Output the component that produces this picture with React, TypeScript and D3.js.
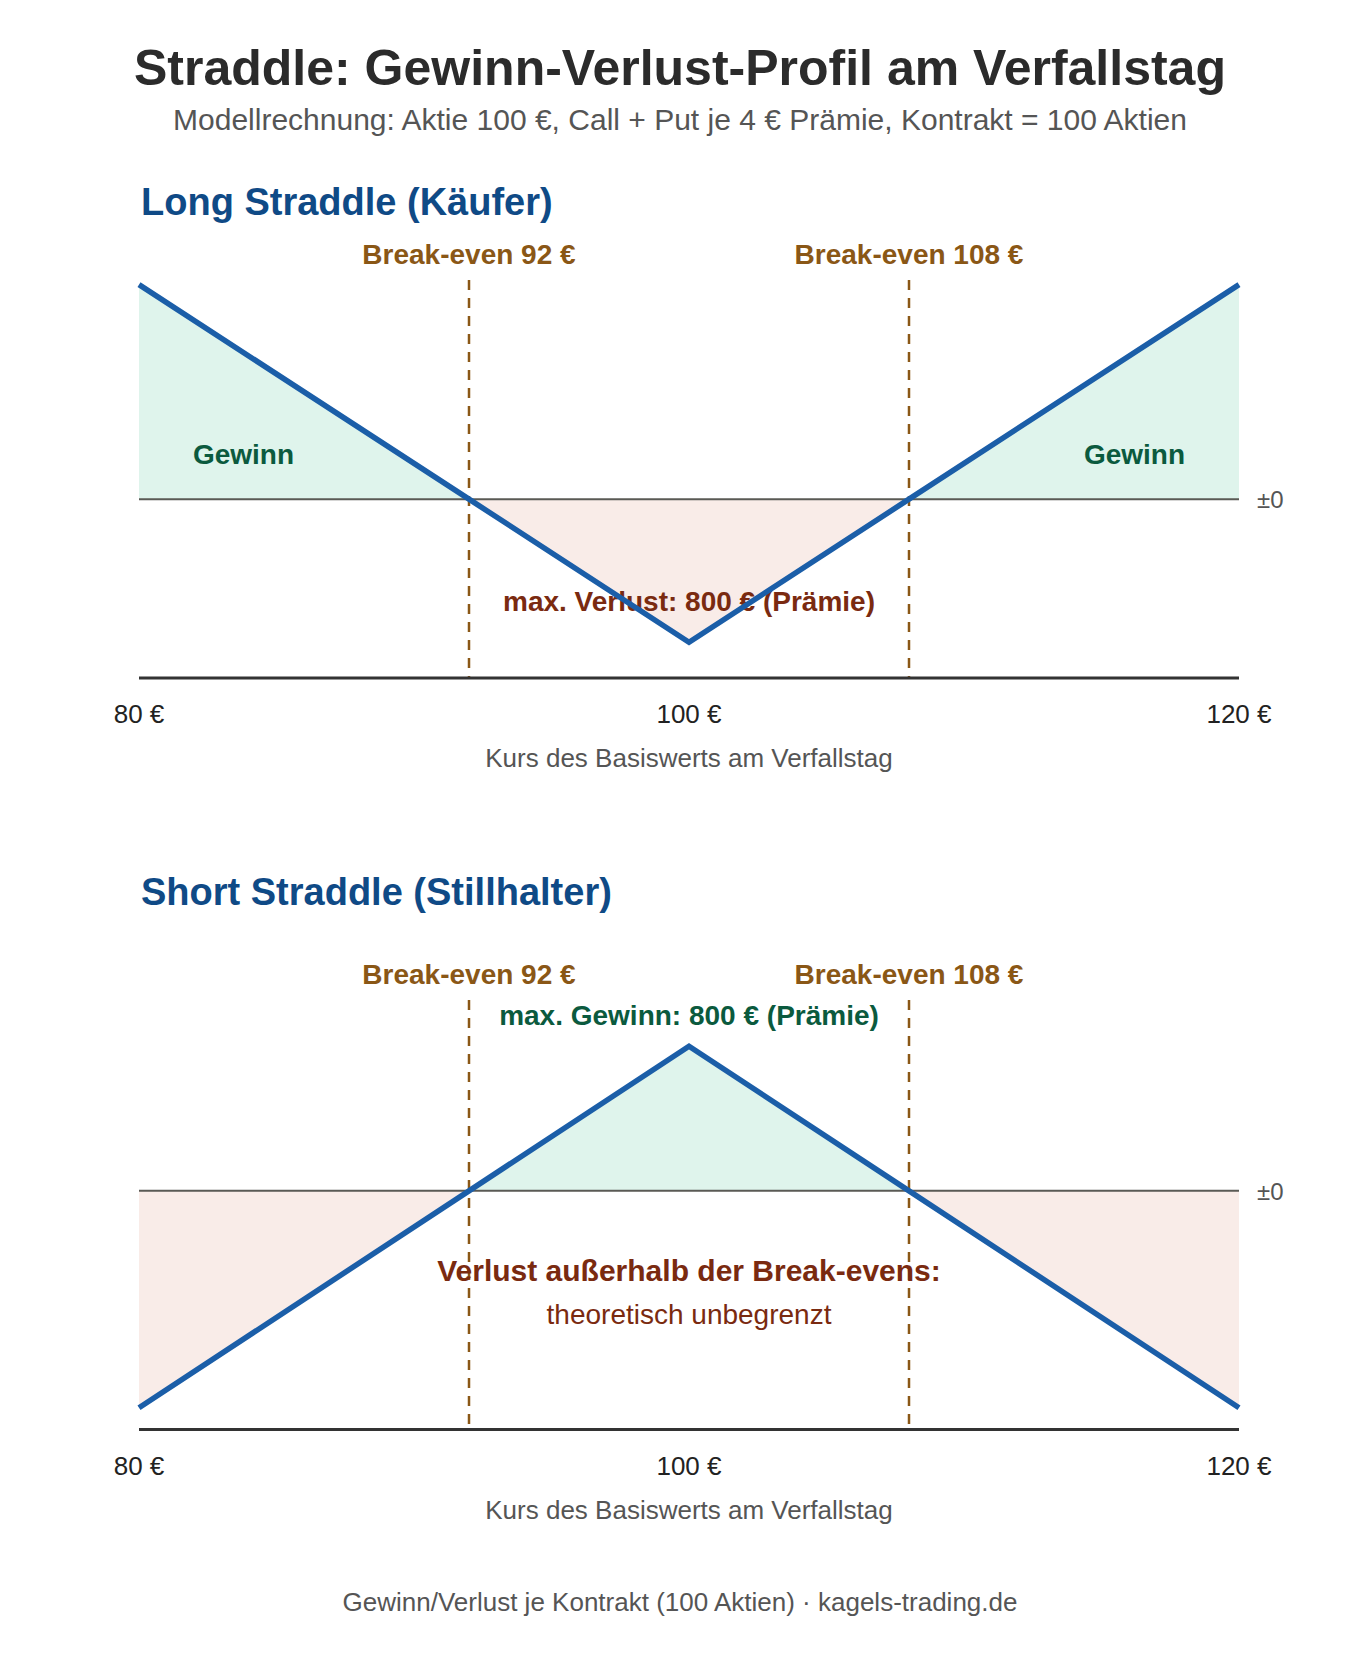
import * as d3 from 'd3';

// price points at expiry (incl. break-evens so the fills split cleanly at zero)
const PRICES = [80, 92, 100, 108, 120];
const LONG_PNL = [1200, 0, -800, 0, 1200];
const SHORT_PNL = [-1200, 0, 800, 0, -1200];
const BREAK_EVENS = [92, 108];
const X_TICKS = [80, 100, 120];
const X_DOMAIN = [80, 120];

const W = 1360;
const H = 1660;
const FONT = '"Liberation Sans", Arial, Helvetica, sans-serif';

const C = {
  line: '#1b5ea8',
  profit: '#dff4ec',
  loss: '#f9ece8',
  zero: '#5a5a55',
  axis: '#333333',
  be: '#8a5716',
  head: '#0f4a86',
  green: '#0b5a3e',
  red: '#7a2a10',
  gray: '#555555',
};

const euro = (v: number) => `${v} €`;

interface PanelProps {
  title: string;
  titleY: number;
  values: number[];
  yDomain: [number, number];
  yRange: [number, number];
  children: (y: d3.ScaleLinear<number, number>, x: d3.ScaleLinear<number, number>) => React.ReactNode;
}

function Panel({ title, titleY, values, yDomain, yRange, children }: PanelProps) {
  const x = d3.scaleLinear().domain(X_DOMAIN).range([139, 1239]);
  const y = d3.scaleLinear().domain(yDomain).range(yRange);
  const pts = PRICES.map((p, i) => ({ p, v: values[i] }));

  const line = d3.line<{ p: number; v: number }>().x((d) => x(d.p)).y((d) => y(d.v));
  const gain = d3
    .area<{ p: number; v: number }>()
    .x((d) => x(d.p))
    .y0(y(0))
    .y1((d) => y(Math.max(d.v, 0)));
  const lossArea = d3
    .area<{ p: number; v: number }>()
    .x((d) => x(d.p))
    .y0(y(0))
    .y1((d) => y(Math.min(d.v, 0)));

  const [x0, x1] = x.range();
  const yBottom = yRange[0];
  const yTop = yRange[1];

  return (
    <g>
      <text x={141} y={titleY} fontSize={38} fontWeight="bold" fill={C.head}>
        {title}
      </text>
      <path d={gain(pts) ?? ''} fill={C.profit} />
      <path d={lossArea(pts) ?? ''} fill={C.loss} />
      <line x1={x0} x2={x1} y1={y(0)} y2={y(0)} stroke={C.zero} strokeWidth={2} />
      <text x={x1 + 18} y={y(0) + 9} fontSize={24} fill={C.gray}>
        ±0
      </text>
      {BREAK_EVENS.map((b) => (
        <g key={b}>
          <line
            x1={x(b)}
            x2={x(b)}
            y1={yTop - 1}
            y2={yBottom}
            stroke={C.be}
            strokeWidth={2.5}
            strokeDasharray="10,8"
          />
          <text x={x(b)} y={yTop - 17} textAnchor="middle" fontSize={28} fontWeight="bold" fill={C.be}>
            {`Break-even ${euro(b)}`}
          </text>
        </g>
      ))}
      {children(y, x)}
      <path d={line(pts) ?? ''} fill="none" stroke={C.line} strokeWidth={5.5} />
      <line x1={x0} x2={x1} y1={yBottom} y2={yBottom} stroke={C.axis} strokeWidth={3} />
      {X_TICKS.map((t) => (
        <text key={t} x={x(t)} y={yBottom + 45} textAnchor="middle" fontSize={26} fill="#222">
          {euro(t)}
        </text>
      ))}
      <text x={x(100)} y={yBottom + 89} textAnchor="middle" fontSize={26} fill={C.gray}>
        Kurs des Basiswerts am Verfallstag
      </text>
    </g>
  );
}

export default function App() {
  return (
    <svg
      width={W}
      height={H}
      viewBox={`0 0 ${W} ${H}`}
      style={{ position: 'absolute', left: 0, top: 0, background: '#fff' }}
      fontFamily={FONT}
    >
      <rect width={W} height={H} fill="#fff" />
      <text x={W / 2} y={85} textAnchor="middle" fontSize={50} fontWeight="bold" fill="#2b2b2b">
        Straddle: Gewinn-Verlust-Profil am Verfallstag
      </text>
      <text x={W / 2} y={130} textAnchor="middle" fontSize={30} fill={C.gray}>
        Modellrechnung: Aktie 100 €, Call + Put je 4 € Prämie, Kontrakt = 100 Aktien
      </text>

      <Panel
        title="Long Straddle (Käufer)"
        titleY={215}
        values={LONG_PNL}
        yDomain={[-1000, 1220]}
        yRange={[678, 281]}
      >
        {(y, x) => (
          <g>
            <text x={x(83.8)} y={y(195)} textAnchor="middle" fontSize={28} fontWeight="bold" fill={C.green}>
              Gewinn
            </text>
            <text x={x(116.2)} y={y(195)} textAnchor="middle" fontSize={28} fontWeight="bold" fill={C.green}>
              Gewinn
            </text>
            <text x={x(100)} y={y(-625)} textAnchor="middle" fontSize={28} fontWeight="bold" fill={C.red}>
              max. Verlust: 800 € (Prämie)
            </text>
          </g>
        )}
      </Panel>

      <Panel
        title="Short Straddle (Stillhalter)"
        titleY={905}
        values={SHORT_PNL}
        yDomain={[-1320, 1050]}
        yRange={[1429.5, 1001]}
      >
        {(y, x) => (
          <g>
            <text x={x(100)} y={y(918)} textAnchor="middle" fontSize={28} fontWeight="bold" fill={C.green}>
              max. Gewinn: 800 € (Prämie)
            </text>
            <text x={x(100)} y={y(-500)} textAnchor="middle" fontSize={30} fontWeight="bold" fill={C.red}>
              Verlust außerhalb der Break-evens:
            </text>
            <text x={x(100)} y={y(-734)} textAnchor="middle" fontSize={28} fill={C.red}>
              theoretisch unbegrenzt
            </text>
          </g>
        )}
      </Panel>

      <text x={W / 2} y={1611} textAnchor="middle" fontSize={26} fill={C.gray}>
        Gewinn/Verlust je Kontrakt (100 Aktien) · kagels-trading.de
      </text>
    </svg>
  );
}
